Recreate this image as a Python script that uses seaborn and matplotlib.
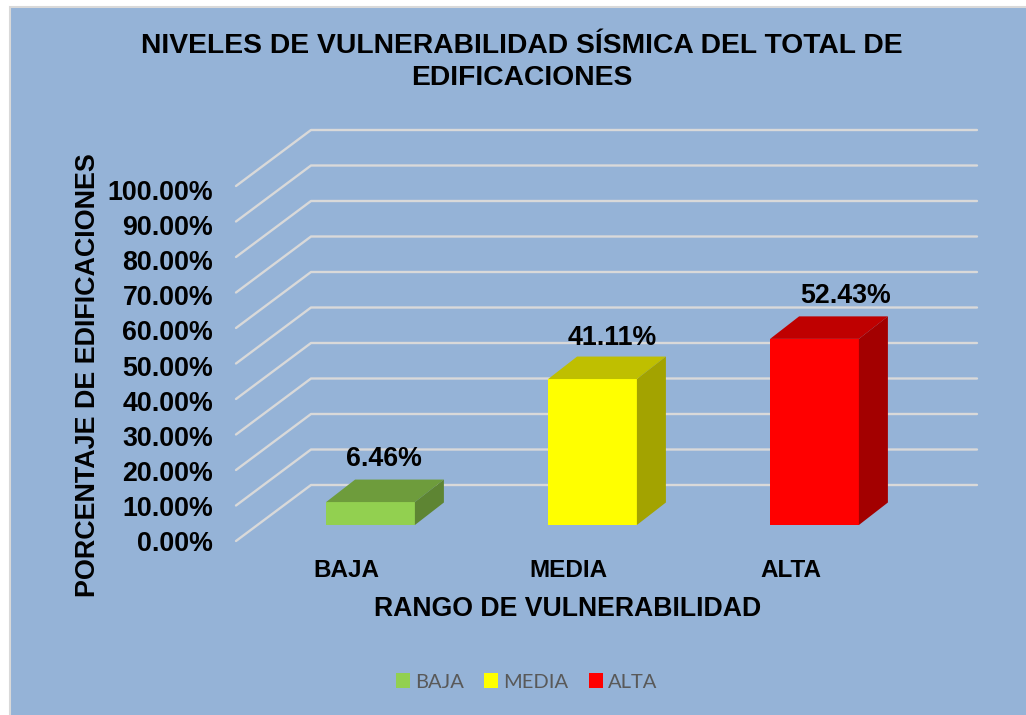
import matplotlib
matplotlib.use('Agg')
import matplotlib.pyplot as plt
from matplotlib.patches import Polygon, Rectangle
from matplotlib.transforms import ScaledTranslation
import pandas as pd
import seaborn as sns

categories = ['BAJA', 'MEDIA', 'ALTA']
values = [6.46, 41.11, 52.43]
value_labels = ['6.46%', '41.11%', '52.43%']
front_colors = ['#92D050', '#FFFF00', '#FF0000']
top_colors = ['#6E9C3C', '#BFBF00', '#BF0000']
side_colors = ['#5E8533', '#A3A300', '#A30000']
y_ticks = [0, 10, 20, 30, 40, 50, 60, 70, 80, 90, 100]
y_tick_labels = ['0.00%', '10.00%', '20.00%', '30.00%', '40.00%', '50.00%',
                 '60.00%', '70.00%', '80.00%', '90.00%', '100.00%']
# label shift from the top of each bar's front face, in pixels
label_shift = [(13.5, 43), (20, 41), (31, 43)]

W, H = 1026, 715
BG = '#95B3D7'
GRID = '#D9D9D9'

sns.set_theme(style='white')
plt.rcParams['font.family'] = ['Liberation Sans', 'DejaVu Sans']
plt.rcParams['font.weight'] = 'bold'
plt.rcParams['patch.edgecolor'] = 'none'
plt.rcParams['patch.linewidth'] = 0


def px_rect(left, top, width, height):
    return [left / W, 1 - (top + height) / H, width / W, height / H]


fig = plt.figure(figsize=(W / 100, H / 100), dpi=100, facecolor='white')
fig.add_artist(Rectangle((10 / W, -5 / H), 1030 / W, 713 / H, transform=fig.transFigure,
                         facecolor=BG, edgecolor=GRID, linewidth=1.5, zorder=-1))

# axes holds the front plane of the bars
ax = fig.add_axes(px_rect(259.5, 170, 666, 355))
ax.patch.set_visible(False)
px_x = 1 / 222
px_y = 100 / 355

df = pd.DataFrame({'rango': categories, 'pct': values})
sns.barplot(data=df, x='rango', y='pct', hue='rango', hue_order=categories, palette=front_colors,
            dodge=False, width=0.4, saturation=1, ax=ax, legend=True, zorder=3,
            edgecolor='none', linewidth=0)
ax.set_xlim(-0.5, 2.5)
ax.set_ylim(0, 100)
ax.set_xlabel('')
ax.set_ylabel('')
ax.set_yticks([])
sns.despine(ax=ax, left=True, bottom=True)

# back wall and floor lines
floor_dx, floor_dy = -23.5 * px_x, -16 * px_y
wall_dx, wall_dy = 51.5 * px_x, 40 * px_y
for v in y_ticks:
    ax.plot([-0.5 + floor_dx, -0.5 + wall_dx, 2.5 + wall_dx],
            [v + floor_dy, v + wall_dy, v + wall_dy],
            color=GRID, lw=1.7, clip_on=False, zorder=1)

# depth faces of the bars
bar_dx, bar_dy = 29 * px_x, 22.5 * px_y
bars = [p for c in ax.containers for p in c]
for i, bar in enumerate(bars):
    x0 = bar.get_x()
    x1 = x0 + bar.get_width()
    h = bar.get_height()
    ax.add_patch(Polygon([(x0, h), (x1, h), (x1 + bar_dx, h + bar_dy), (x0 + bar_dx, h + bar_dy)],
                         facecolor=top_colors[i], edgecolor='none', clip_on=False, zorder=3))
    ax.add_patch(Polygon([(x1, 0), (x1, h), (x1 + bar_dx, h + bar_dy), (x1 + bar_dx, bar_dy)],
                         facecolor=side_colors[i], edgecolor='none', clip_on=False, zorder=3))
    ax.annotate(value_labels[i], (x0 + bar.get_width() / 2, h), xytext=label_shift[i],
                textcoords='offset pixels', ha='center', va='center', fontsize=19.3,
                fontweight='bold', color='black', zorder=5)

# category labels sit left of the bars
ax.tick_params(axis='x', length=0, pad=24.5, labelsize=17.5)
shift = ScaledTranslation(-24 / 100, 0, fig.dpi_scale_trans)
for lab in ax.get_xticklabels():
    lab.set_transform(lab.get_transform() + shift)
    lab.set_fontweight('bold')
    lab.set_color('black')

# value axis labels, on their own spacing
lab_ax = fig.add_axes(px_rect(213, 190, 1, 351))
lab_ax.patch.set_visible(False)
lab_ax.set_ylim(0, 100)
lab_ax.set_xticks([])
lab_ax.set_yticks(y_ticks)
lab_ax.set_yticklabels(y_tick_labels, fontsize=19.3, fontweight='bold', color='black')
lab_ax.tick_params(axis='y', length=0, pad=0)
sns.despine(ax=lab_ax, left=True, bottom=True)

fig.text(522 / W, 1 - 62 / H, 'NIVELES DE VULNERABILIDAD SÍSMICA DEL TOTAL DE\nEDIFICACIONES',
         ha='center', va='center', fontsize=20.3, fontweight='bold', color='black', linespacing=1.3)
fig.text(568 / W, 1 - 609 / H, 'RANGO DE VULNERABILIDAD', ha='center', va='center',
         fontsize=19.2, fontweight='bold', color='black')
fig.text(88 / W, 1 - 375 / H, 'PORCENTAJE DE EDIFICACIONES', rotation=90, ha='center', va='center',
         fontsize=19.35, fontweight='bold', color='black')

leg = ax.legend(loc='center', bbox_to_anchor=(526.5 / W, 1 - 682 / H), bbox_transform=fig.transFigure,
                ncol=3, frameon=False, handlelength=0.7, handleheight=0.7, handletextpad=0.25,
                columnspacing=1.0, prop={'family': 'Lato', 'size': 14.5, 'weight': 'normal'},
                labelcolor='#595959')

fig.savefig('out.png', dpi=100, facecolor='white')
